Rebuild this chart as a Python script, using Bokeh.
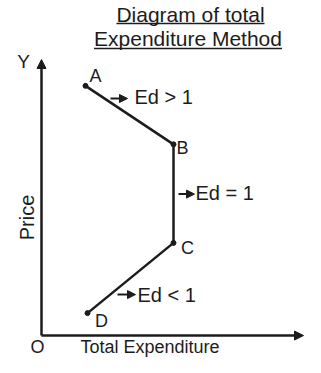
from bokeh.plotting import figure
from bokeh.models import Range1d, Arrow, NormalHead, ColumnDataSource
from bokeh.core.properties import value
from bokeh.embed import file_html
from bokeh.resources import INLINE
import math

# ---- data ----
point_names = ["A", "B", "C", "D"]
expenditure = [44, 132, 132, 46]
price = [256, 196, 95, 23]
elasticity_labels = ["Ed > 1", "Ed = 1", "Ed < 1"]
title_lines = ["Diagram of total", "Expenditure Method"]
x_label = "Total Expenditure"
y_label = "Price"

FONT = value("Liberation Sans")
INK = "#1c1c1c"

p = figure(width=305, height=357, output_backend="svg", toolbar_location=None,
           x_range=Range1d(-41, 264), y_range=Range1d(-22.5, 343.5),
           min_border=0, min_border_left=0, min_border_right=0,
           min_border_top=0, min_border_bottom=0)
p.axis.visible = False
p.grid.visible = False
p.outline_line_color = None
p.background_fill_color = "white"
p.border_fill_color = "white"

# axes with arrows
p.add_layout(Arrow(end=NormalHead(size=9, fill_color=INK, line_color=INK),
                   x_start=0, y_start=0, x_end=0, y_end=283,
                   line_width=2.5, line_color=INK))
p.add_layout(Arrow(end=NormalHead(size=9, fill_color=INK, line_color=INK),
                   x_start=0, y_start=0, x_end=262, y_end=0,
                   line_width=2.5, line_color=INK))

# demand curve
src = ColumnDataSource(dict(x=expenditure, y=price, name=point_names))
p.line("x", "y", source=src, line_width=2.5, line_color=INK)
p.scatter("x", "y", source=src, size=5, color=INK)

# point labels
lbl_dx = [10, 9, 14, 14]
lbl_dy = [10, -4, -5, -8]
p.text(x=[x + d for x, d in zip(expenditure, lbl_dx)],
       y=[y + d for y, d in zip(price, lbl_dy)],
       text=point_names, text_font=FONT, text_font_size="18px",
       text_color=INK, text_align="center", text_baseline="middle")

# elasticity arrows and labels
arr_x0 = [69, 137, 76]
arr_x1 = [86, 153, 94]
arr_y = [243, 145, 42]
for x0, x1, y in zip(arr_x0, arr_x1, arr_y):
    p.add_layout(Arrow(end=NormalHead(size=8, fill_color=INK, line_color=INK),
                       x_start=x0, y_start=y, x_end=x1, y_end=y,
                       line_width=2, line_color=INK))
p.text(x=[93, 154, 96], y=[245, 146, 42], text=elasticity_labels,
       text_font=FONT, text_font_size="20px", text_color=INK,
       text_align="left", text_baseline="middle")

# axis labels
p.text(x=[39], y=[-11.7], text=[x_label], text_font=FONT, text_font_size="18px",
       text_color=INK, text_align="left", text_baseline="middle")
p.text(x=[-15], y=[121], text=[y_label], text_font=FONT, text_font_size="20px",
       text_color=INK, text_align="center", text_baseline="middle", angle=math.pi / 2)
p.text(x=[-4], y=[-11.7], text=["O"], text_font=FONT, text_font_size="18px",
       text_color=INK, text_align="center", text_baseline="middle")
p.text(x=[-18], y=[281], text=["Y"], text_font=FONT, text_font_size="19px",
       text_color=INK, text_align="center", text_baseline="middle")

# title (underlined)
p.text(x=[149, 146.5], y=[329, 305], text=title_lines, text_font=FONT,
       text_font_size="21px", text_color=INK, text_align="center",
       text_baseline="middle")
p.segment(x0=[75, 52.5], y0=[320, 294.3], x1=[223, 240.5], y1=[320, 294.3],
          line_width=1.5, line_color=INK)

open("out.html", "w").write(file_html(p, INLINE))
